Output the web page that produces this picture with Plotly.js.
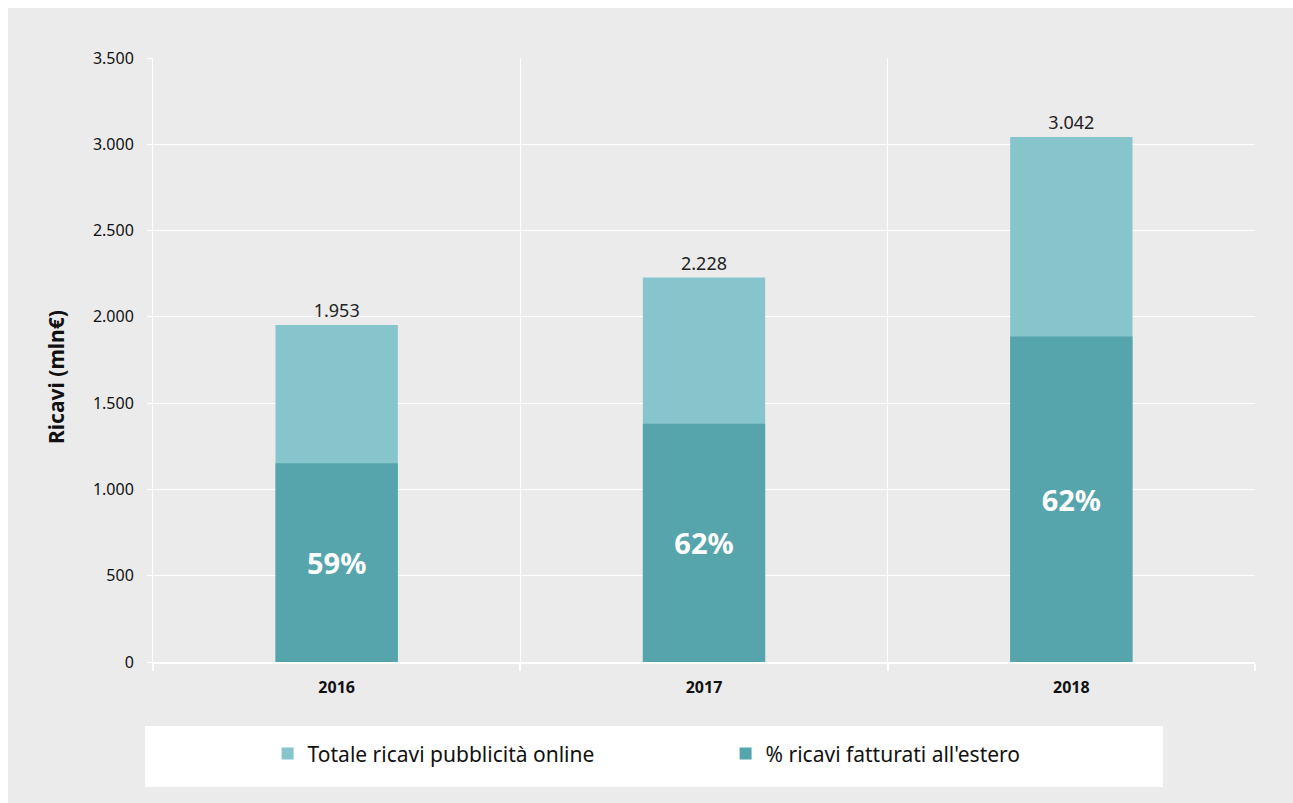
<!DOCTYPE html>
<html>
<head>
<meta charset="utf-8">
<script src="https://cdn.plot.ly/plotly-3.0.1.min.js"></script>
<style>
  html, body { background: #ffffff; margin: 0; padding: 0; overflow: hidden; }
  #chart { position: absolute; left: 8px; top: 8px; width: 1285px; height: 795px; }
</style>
</head>
<body>
<div id="chart"></div>
<script>
const years = ["2016", "2017", "2018"];
const totaleRicavi = [1953, 2228, 3042];
const ricaviEstero = [1152, 1381, 1886];
const pctEstero = [59, 62, 62];
const yTickVals = [0, 500, 1000, 1500, 2000, 2500, 3000, 3500];
const yTitle = "Ricavi (mln€)";

const FONT = "Noto Sans, Open Sans, DejaVu Sans, sans-serif";
const lightColor = "#86c5cb";
const darkColor = "#56a5ad";

const traceTot = {
  type: "bar",
  name: "Totale ricavi pubblicità online",
  x: years,
  y: totaleRicavi,
  width: 0.333,
  marker: { color: lightColor, line: { width: 0 } },
  texttemplate: "%{y:,.0f}",
  textposition: "outside",
  outsidetextfont: { family: FONT, size: 18, color: "#222222" },
  constraintext: "none",
  cliponaxis: false,
  hoverinfo: "skip"
};

const traceEst = {
  type: "bar",
  name: "% ricavi fatturati all'estero",
  x: years,
  y: ricaviEstero,
  width: 0.333,
  marker: { color: darkColor, line: { width: 0 } },
  text: pctEstero.map(p => p + "%"),
  textposition: "inside",
  insidetextanchor: "middle",
  insidetextfont: { family: FONT, size: 29, color: "#ffffff", weight: "bold" },
  constraintext: "none",
  hoverinfo: "skip"
};

const layout = {
  width: 1285,
  height: 795,
  paper_bgcolor: "#ebebeb",
  plot_bgcolor: "#ebebeb",
  separators: ",.",
  barmode: "overlay",
  margin: { l: 145, r: 38, t: 50, b: 141, autoexpand: false },
  font: { family: FONT, color: "#222222" },
  showlegend: true,
  hovermode: false,
  xaxis: {
    type: "category",
    tickson: "boundaries",
    showgrid: true,
    gridcolor: "#ffffff",
    gridwidth: 1,
    showline: true,
    linecolor: "#ffffff",
    linewidth: 2,
    ticks: "outside",
    ticklen: 7,
    tickcolor: "#ffffff",
    tickwidth: 2,
    tickfont: { family: FONT, size: 16, color: "#111111", weight: "bold" },
    ticklabelstandoff: 10,
    fixedrange: true
  },
  yaxis: {
    range: [0, 3500],
    tickvals: yTickVals,
    tickformat: ",.0f",
    showgrid: true,
    gridcolor: "#ffffff",
    gridwidth: 1,
    zeroline: false,
    showline: true,
    linecolor: "#ffffff",
    linewidth: 1,
    ticks: "outside",
    ticklen: 5,
    tickcolor: "#ffffff",
    tickfont: { family: FONT, size: 16, color: "#111111" },
    ticklabelstandoff: 10,
    fixedrange: true
  },
  annotations: [{
    text: yTitle,
    xref: "paper", yref: "paper",
    x: -0.088, y: 0.472,
    xanchor: "center", yanchor: "middle",
    textangle: -90,
    showarrow: false,
    font: { family: FONT, size: 21, color: "#111111", weight: "bold" }
  }],
  legend: {
    orientation: "h",
    x: 0.104,
    xanchor: "left",
    y: -0.118,
    yanchor: "top",
    bgcolor: "rgba(0,0,0,0)",
    font: { family: FONT, size: 21, color: "#111111" },
    entrywidth: 413,
    entrywidthmode: "pixels",
    itemwidth: 30,
    traceorder: "normal"
  },
  shapes: [{
    type: "rect",
    xref: "paper", yref: "paper",
    x0: -0.00726, x1: 0.9165,
    y0: -0.207, y1: -0.106,
    fillcolor: "#ffffff",
    line: { width: 0 },
    layer: "below"
  }]
};

Plotly.newPlot("chart", [traceTot, traceEst], layout, { displayModeBar: false, staticPlot: true });
</script>
</body>
</html>
